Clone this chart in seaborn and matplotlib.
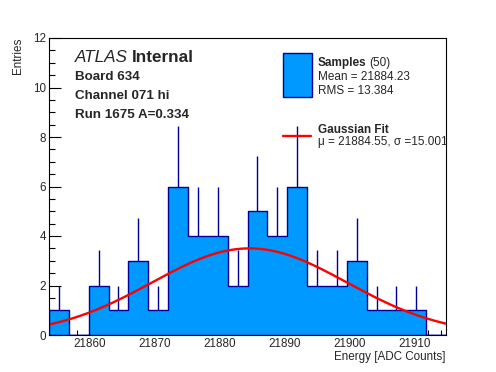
import numpy as np
import pandas as pd
import matplotlib
matplotlib.use("Agg")
import matplotlib.pyplot as plt
import seaborn as sns
from matplotlib.patches import Rectangle
from matplotlib.lines import Line2D
from matplotlib.ticker import MultipleLocator

# Histogram (20 equal bins between x_min and x_max)
x_min = 21853.7
x_max = 21914.8
counts = [1, 0, 2, 1, 3, 1, 6, 4, 4, 2, 5, 4, 6, 2, 2, 3, 1, 1, 1, 0]
n_samples = 50

# Gaussian fit parameters
fit_mu = 21884.55
fit_sigma = 15.001
fit_peak = 3.5

x_ticks = [21860, 21870, 21880, 21890, 21900, 21910]
y_ticks = [0, 2, 4, 6, 8, 10, 12]

info_lines = ["Board 634", "Channel 071 hi", "Run 1675 A=0.334"]
legend_samples = ["Mean = 21884.23", "RMS = 13.384"]
legend_fit = "\u03bc = 21884.55, \u03c3 =15.001"

FILL = "#0099ff"
EDGE = "#000099"

W, H = 496, 372


def fx(px):
    return px / W


def fy(py):
    return 1 - py / H


edges = np.linspace(x_min, x_max, len(counts) + 1)
centers = (edges[:-1] + edges[1:]) / 2
df = pd.DataFrame({"energy": centers, "entries": counts})

sns.set_style("ticks")
plt.rcParams["font.family"] = ["Liberation Sans", "DejaVu Sans"]

fig = plt.figure(figsize=(W / 100, H / 100), dpi=100)
ax = fig.add_axes([fx(49), fy(335), (446 - 49) / W, (335 - 38) / H])

# Histogram
sns.histplot(data=df, x="energy", weights="entries", bins=edges.tolist(),
             element="step", fill=True, facecolor=FILL, edgecolor=EDGE,
             alpha=1, linewidth=1.0, ax=ax)

# Poisson error bars (only the upper half shows above the fill)
c = np.array(counts, dtype=float)
nz = c > 0
ax.vlines(centers[nz], c[nz], c[nz] + np.sqrt(c[nz]), color=EDGE, linewidth=1.0)

# Gaussian fit curve
xs = np.linspace(x_min, x_max, 300)
ys = fit_peak * np.exp(-0.5 * ((xs - fit_mu) / fit_sigma) ** 2)
sns.lineplot(x=xs, y=ys, color="red", linewidth=1.7, ax=ax)

ax.set_xlim(x_min, x_max)
ax.set_ylim(0, 12)
ax.set_xticks(x_ticks)
ax.set_yticks(y_ticks)
ax.xaxis.set_minor_locator(MultipleLocator(2))
ax.yaxis.set_minor_locator(MultipleLocator(0.5))
ax.tick_params(which="both", direction="in", labelsize=8.4, width=0.8, color="black")
ax.tick_params(axis="x", which="major", length=7.2, pad=2.5)
ax.tick_params(axis="x", which="minor", length=3.6)
ax.tick_params(axis="y", which="major", length=8.6, pad=2)
ax.tick_params(axis="y", which="minor", length=4.3)
for s in ax.spines.values():
    s.set_color("black")
    s.set_linewidth(0.8)

ax.set_xlabel("Energy [ADC Counts]", loc="right", fontsize=8.4)
ax.xaxis.set_label_coords(1.0, -0.053)
ax.set_ylabel("Entries", loc="top", fontsize=8.4)
ax.yaxis.set_label_coords(-0.062, 1.0)

renderer = fig.canvas.get_renderer()

# ATLAS label block
t = fig.text(fx(75), fy(62.3), "ATLAS", style="italic", fontsize=12.3)
bb = t.get_window_extent(renderer)
fig.text(bb.x1 / W + fx(4), fy(62.3), "Internal", fontweight="bold", fontsize=12.3)
for i, line in enumerate(info_lines):
    fig.text(fx(75), fy(80 + 19 * i), line, fontweight="bold", fontsize=9.6)

# Legend (drawn by hand, ROOT style)
fig.patches.append(Rectangle((fx(283.3), fy(96.7)), (311.7 - 283.3) / W, (96.7 - 53.3) / H,
                             transform=fig.transFigure, facecolor=FILL,
                             edgecolor=EDGE, linewidth=1.0))
t = fig.text(fx(317.7), fy(65.7), "Samples", fontweight="bold", fontsize=8.5)
bb = t.get_window_extent(renderer)
fig.text(bb.x1 / W + fx(3), fy(65.7), "(%d)" % n_samples, fontsize=8.5)
for i, line in enumerate(legend_samples):
    fig.text(fx(317.7), fy(80 + 14 * i), line, fontsize=8.5)

fig.lines.append(Line2D([fx(283), fx(311)], [fy(136), fy(136)],
                        transform=fig.transFigure, color="red", linewidth=1.7))
fig.text(fx(317.7), fy(133.3), "Gaussian Fit", fontweight="bold", fontsize=8.5)
fig.text(fx(317.7), fy(144.5), legend_fit, fontsize=8.5)

fig.savefig("out.png", dpi=100)
